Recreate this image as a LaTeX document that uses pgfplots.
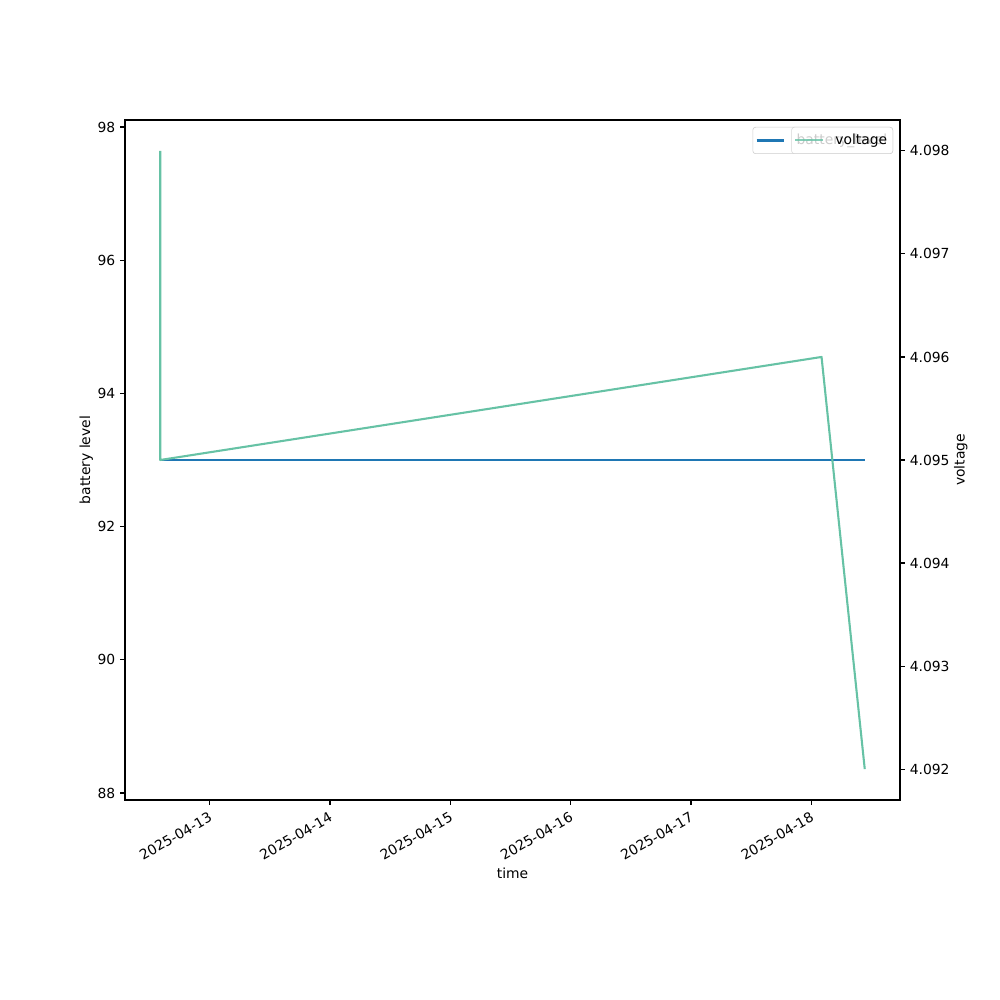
\documentclass[border=0pt]{standalone}
\usepackage{fontspec}
\setmainfont{DejaVu Sans}
\usepackage{pgfplots}
\pgfplotsset{compat=1.18}
\definecolor{mplblue}{HTML}{1F77B4}
\definecolor{setgreen}{HTML}{66C2A5}
\definecolor{legedge}{gray}{0.8}

\begin{document}
\begin{tikzpicture}[font=\fontsize{10bp}{12bp}\selectfont]
\path[use as bounding box] (0,0) rectangle (10in,10in);
\pgfplotsset{
  every axis/.append style={
    at={(1.25in,2in)}, anchor=south west,
    scale only axis, width=7.75in, height=6.8in,
    xmin=-0.704, xmax=5.737,
    tick align=outside, major tick length=3.5bp,
    every tick/.style={black, line width=0.8bp},
    axis line style={line width=0.8bp},
    /pgf/number format/assume math mode=true,
    tick label style={font=\fontsize{10bp}{12bp}\selectfont},
    label style={font=\fontsize{10bp}{12bp}\selectfont},
    ylabel shift=-3.5bp, xlabel shift=-3bp,
    legend style={at={(1,1)}, anchor=north east, xshift=-5bp, yshift=-5bp,
      draw=legedge, rounded corners=2bp, inner xsep=2bp, inner ysep=3bp,
      font=\fontsize{10bp}{12bp}\selectfont},
    legend image code/.code={\draw[#1] (0bp,0bp) -- (20bp,0bp); \path (26bp,0bp);},
  }
}
\begin{axis}[
  xtick pos=left, ytick pos=left,
  ymin=87.895, ymax=98.105,
  ytick={88,90,92,94,96,98},
  xtick={0,1,2,3,4,5},
  xticklabels={2025-04-13,2025-04-14,2025-04-15,2025-04-16,2025-04-17,2025-04-18},
  xticklabel style={rotate=30, anchor=north east},
  xlabel={time}, ylabel={battery level},
]
\addplot[mplblue, line width=1.5bp] coordinates {
  (-0.411,93) (-0.411,93) (5.085,93) (5.444,93)
};
\addlegendentry{battery\_level}
\end{axis}
\begin{axis}[
  axis y line*=right, axis x line=none,
  ymin=4.0917, ymax=4.0983,
  ytick={4.092,4.093,4.094,4.095,4.096,4.097,4.098},
  scaled y ticks=false,
  yticklabel style={/pgf/number format/.cd, fixed, precision=3, fixed zerofill},
  ylabel={voltage},
  legend style={fill=white, fill opacity=0.8, draw opacity=0.8, text opacity=1},
]
\addplot[setgreen, line width=1.5bp, line join=round] coordinates {
  (-0.411,4.098) (-0.411,4.095) (5.085,4.096) (5.444,4.092)
};
\addlegendentry{voltage}
\end{axis}
\end{tikzpicture}
\end{document}
